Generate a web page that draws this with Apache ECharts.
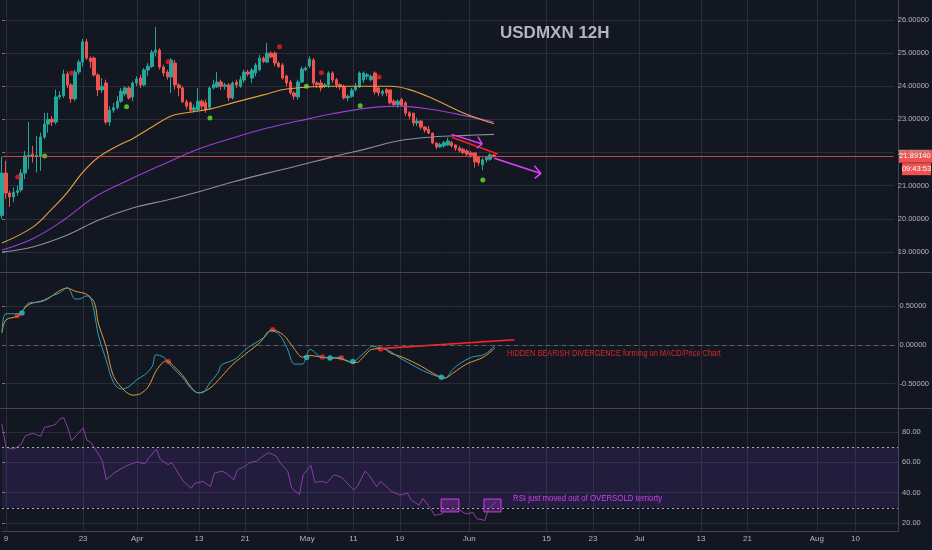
<!DOCTYPE html>
<html><head><meta charset="utf-8">
<script src="https://cdn.jsdelivr.net/npm/echarts@6.0.0/dist/echarts.min.js"></script>
<style>html,body{margin:0;padding:0;background:#131722}#c{width:932px;height:550px}</style>
</head><body><div id="c"></div><script>
// ---------- data ----------
const barCount = 233;
const xTickIdx = [1,21,35,51,63,79,91,103,121,141,153,165,181,193,211,221];
const xTickText = ['9','23','Apr','13','21','May','11','19','Jun','15','23','Jul','13','21','Aug','10'];

const opens = [20.1,21.38,20.78,20.66,20.8,20.87,21.38,21.9,21.95,21.88,21.9,22.47,22.86,23.01,22.92,23.68,23.72,24.37,24.04,23.62,24.43,24.73,25.34,24.85,24.85,24.34,23.89,24.1,22.92,23.28,23.35,23.55,23.77,23.95,23.68,24.1,24.25,24.04,24.49,24.6,25.03,25.09,24.58,24.43,24.28,24.7,24.04,23.95,23.53,23.5,23.28,23.3,23.55,23.5,23.37,23.95,23.98,24.13,24.0,24.04,23.65,24.13,24.0,24.19,24.43,24.25,24.4,24.5,24.85,24.73,25.0,25.0,24.7,24.64,24.31,24.13,23.8,23.68,24.13,24.5,24.61,24.79,24.1,24.1,24.0,24.04,24.4,24.2,24.05,23.98,23.65,23.7,23.9,23.98,24.19,24.3,24.2,24.4,23.95,23.78,23.9,23.89,23.55,23.45,23.6,23.5,23.2,23.19,22.89,22.95,22.77,22.7,22.59,22.29,22.17,22.2,22.23,22.3,22.23,22.14,22.1,22.05,21.99,21.99,21.85,21.63,21.78,21.8,21.93];
const closes = [21.38,20.78,20.66,20.8,20.85,21.38,21.9,21.92,21.88,21.92,22.47,22.86,23.0,22.92,23.68,23.72,24.37,24.04,23.62,24.43,24.73,25.34,24.85,24.75,24.34,23.89,24.0,22.92,23.28,23.35,23.55,23.85,23.95,23.65,24.1,24.22,24.04,24.49,24.6,25.03,25.09,24.58,24.4,24.28,24.79,24.04,23.95,23.53,23.4,23.28,23.35,23.55,23.4,23.3,23.95,24.05,24.13,24.0,24.04,23.65,24.1,24.04,24.2,24.43,24.37,24.49,24.64,24.85,24.75,25.0,24.88,24.7,24.6,24.25,24.1,23.8,23.7,24.13,24.52,24.55,24.82,24.1,24.05,23.95,24.04,24.4,24.19,24.04,23.98,23.65,23.7,23.88,24.0,24.4,24.4,24.35,24.3,23.83,23.8,23.85,23.8,23.5,23.45,23.55,23.43,23.19,23.1,22.89,22.95,22.77,22.68,22.59,22.29,22.17,22.25,22.3,22.35,22.2,22.13,22.06,22.0,21.95,21.92,21.72,21.69,21.78,21.85,21.93,21.89];
const highs = [21.87,21.75,20.85,20.95,21.0,21.5,22.05,22.92,22.2,22.5,22.6,23.2,23.2,23.1,23.9,23.85,24.5,24.45,24.1,24.5,24.8,25.43,25.43,24.9,24.9,24.4,24.25,24.2,23.4,23.5,23.7,23.95,24.0,24.0,24.15,24.3,24.35,24.55,24.7,25.1,25.79,25.15,24.65,24.5,24.85,24.8,24.1,24.0,23.6,23.55,23.45,23.95,23.6,23.6,24.0,24.2,24.43,24.2,24.1,24.1,24.15,24.2,24.3,24.5,24.5,24.55,24.7,24.95,24.9,25.31,25.05,25.05,24.75,24.7,24.35,24.2,23.85,24.2,24.6,24.6,24.9,24.85,24.15,24.2,24.1,24.45,24.45,24.25,24.1,24.05,23.75,23.95,24.1,24.45,24.45,24.4,24.35,24.45,24.0,23.9,23.95,23.9,23.6,23.6,23.65,23.55,23.25,23.2,23.05,22.98,22.8,22.8,22.6,22.3,22.3,22.35,22.45,22.35,22.25,22.2,22.15,22.1,22.05,22.0,21.9,21.85,21.9,21.98,21.95];
const lows = [20.0,20.6,20.36,20.5,20.7,20.8,21.2,21.5,21.7,21.4,21.45,22.4,22.6,22.8,22.85,23.6,23.65,23.95,23.5,23.55,24.35,24.6,24.8,24.55,24.3,23.7,23.8,22.85,22.8,23.2,23.3,23.5,23.7,23.6,23.55,24.0,23.95,24.0,24.3,24.55,24.9,24.5,24.3,24.2,23.8,23.9,23.7,23.5,23.3,23.2,23.2,23.25,23.3,23.2,23.3,23.9,23.95,23.9,23.9,23.55,23.6,23.95,23.95,24.1,24.3,24.1,24.3,24.45,24.7,24.7,24.85,24.6,24.55,24.2,24.0,23.75,23.6,23.6,24.1,24.45,24.55,24.0,23.95,23.85,23.95,23.95,24.1,23.95,23.9,23.6,23.55,23.65,23.85,23.95,24.1,24.2,24.15,23.75,23.7,23.7,23.7,23.45,23.4,23.35,23.4,23.1,23.0,22.8,22.8,22.7,22.6,22.55,22.25,22.1,22.15,22.15,22.2,22.15,22.05,22.0,21.95,21.9,21.85,21.55,21.6,21.47,21.7,21.75,21.85];
const lastPrice = 21.8914;
const countdownText = '09:43:53';

const maOrange = [[0,19.27],[8,19.75],[13,20.3],[17,20.8],[21,21.4],[25,21.85],[30,22.2],[34,22.42],[39,22.77],[44,23.1],[48,23.2],[54,23.31],[60,23.5],[68,23.74],[74,23.92],[85,24.0],[95,24.0],[101,24.0],[106,23.9],[112,23.63],[119,23.25],[124,23.02],[128,22.87]];
const maPurple = [[0,19.06],[8,19.4],[16,19.96],[24,20.65],[32,21.12],[43,21.7],[51,22.1],[60,22.44],[69,22.74],[77,22.95],[86,23.17],[95,23.34],[103,23.4],[112,23.3],[121,23.1],[128,22.92]];
const maGray = [[0,19.0],[8,19.15],[17,19.51],[25,19.96],[34,20.33],[43,20.57],[51,20.81],[60,21.11],[69,21.38],[77,21.6],[86,21.87],[95,22.12],[103,22.35],[112,22.47],[121,22.52],[128,22.55]];

const sellDots = [[4.1,21.26],[18.1,24.4],[43.2,24.74],[72.2,25.19],[83.1,24.41],[98.1,24.28]];
const buyDots = [[11.1,21.9],[32.4,23.38],[54.1,23.04],[79.2,24.0],[93.2,23.41],[125.1,21.17]];

const trendRed = [[117.0,22.46],[129.0,21.96]];
const arrow1 = [[117.0,22.55],[124.9,22.26]];
const arrow1Head = [[123.8,22.48],[124.9,22.26],[123.5,22.13]];
const arrow2 = [[128.1,21.83],[140.2,21.37]];
const arrow2Head = [[138.5,21.6],[140.2,21.37],[138.6,21.22]];

const macdLine = [[0,0.17],[1,0.40],[4,0.40],[5,0.42],[7,0.54],[9,0.55],[11,0.58],[13,0.63],[15,0.67],[17,0.74],[19,0.59],[20,0.59],[22,0.63],[23,0.60],[24,0.41],[25,0.13],[27,-0.19],[29,-0.49],[31,-0.57],[33,-0.54],[35,-0.45],[37,-0.39],[39,-0.28],[40,-0.13],[42,-0.16],[43,-0.22],[44,-0.28],[47,-0.43],[49,-0.56],[51,-0.62],[52,-0.62],[54,-0.49],[56,-0.37],[57,-0.26],[59,-0.22],[61,-0.17],[63,-0.07],[65,0],[68,0.09],[70,0.18],[72,0.13],[74,-0.04],[76,-0.25],[78,-0.25],[79,-0.16],[80,-0.06],[82,-0.13],[83,-0.16],[85,-0.17],[88,-0.16],[89,-0.19],[91,-0.22],[93,-0.15],[95,-0.06],[96,-0.02],[99,-0.05],[101,-0.09],[103,-0.16],[108,-0.30],[111,-0.37],[115,-0.43],[117,-0.32],[119,-0.24],[122,-0.16],[125,-0.13],[127,-0.06],[128,-0.01]];
const signalLine = [[0,0.15],[1,0.32],[4,0.37],[7,0.52],[11,0.57],[17,0.73],[19,0.69],[22,0.65],[24,0.54],[25,0.28],[27,-0.02],[29,-0.41],[32,-0.60],[34,-0.65],[36,-0.63],[38,-0.54],[40,-0.34],[42,-0.22],[43,-0.21],[44,-0.25],[47,-0.40],[49,-0.54],[51,-0.62],[54,-0.56],[57,-0.41],[60,-0.25],[64,-0.09],[67,0.03],[70,0.19],[73,0.13],[76,-0.06],[78,-0.16],[80,-0.14],[83,-0.16],[85,-0.17],[88,-0.18],[90,-0.22],[92,-0.23],[94,-0.15],[96,-0.06],[99,-0.05],[101,-0.11],[104,-0.16],[109,-0.28],[112,-0.37],[115,-0.43],[117,-0.37],[119,-0.30],[121,-0.24],[125,-0.16],[128,-0.04]];
const macdRedDots = [[4.0,0.378],[9.2,0.538],[13.1,0.632],[17.2,0.731],[43.2,-0.215],[70.3,0.194],[83.2,-0.159],[88.1,-0.168],[98.3,-0.056]];
const macdCyanDots = [[5.2,0.409],[11.3,0.581],[14.3,0.658],[31.2,-0.571],[52.1,-0.611],[79.1,-0.164],[85.2,-0.172],[91.1,-0.215],[114.1,-0.42]];
const divergenceLine = [[98.1,-0.05],[133.1,0.065]];

const rsiLine = [[0,85],[1,70],[3,68.6],[5,72],[6,77.5],[8,79.1],[10,77.1],[11,83.1],[13,84.2],[14,85.4],[15,88.7],[16,89.4],[17,83.1],[18,74.2],[20,79.8],[21,82.7],[22,74.6],[23,73.1],[25,65.3],[26,60.8],[27,48.5],[29,53],[30,54.5],[32,57.4],[33,58.5],[35,60.3],[37,59],[38,63],[40,68.6],[41,61.9],[43,58.5],[44,59.7],[46,51.4],[47,47.4],[49,42.9],[50,46.3],[52,47.4],[54,44],[55,53],[57,54.1],[58,53],[60,48.5],[61,55.2],[63,57.4],[64,59.7],[66,60.8],[67,63],[69,66.4],[71,64.1],[72,59.7],[74,54.1],[75,42.9],[77,38.9],[78,51.8],[80,58.1],[81,46.9],[83,47.4],[84,46.3],[86,51.8],[88,50.1],[89,47.4],[91,41.8],[92,44],[94,54.1],[95,51.8],[97,44],[98,47.4],[100,42.9],[101,40.7],[103,38.4],[105,39.6],[106,35.1],[108,31.7],[109,36.2],[111,29.5],[112,25],[114,26.1],[115,29.5],[117,27.7],[118,29.5],[120,26.1],[122,26.8],[123,22.8],[125,21.7],[126,29.5],[128,34]];
const rsiBands = [30, 70];
const rsiBoxes = [[[113.7,35.8],[118.3,27.3]],[[124.8,35.8],[129.2,27.3]]];

const titleText = 'USDMXN 12H';
const macdNote = 'HIDDEN BEARISH DIVERGENCE forming on MACD/Price Chart';
const rsiNote = 'RSI just moved out of OVERSOLD terriorty';

// ---------- chart ----------
const GRID = '#2a2e39';
const AXT = '#b2b5be';
const FONT = "'Liberation Sans Narrow','Liberation Sans',sans-serif";
const cats = Array.from({length: barCount}, (_, i) => String(i));
const tickMap = {};
xTickIdx.forEach((v, k) => { tickMap[v] = xTickText[k]; });
const isTick = (i) => tickMap[i] !== undefined;
const candles = opens.map((o, i) => [o, closes[i], lows[i], highs[i]]);

const chart = echarts.init(document.getElementById('c'), null, {renderer: 'canvas'});
const yLab = (fmt) => ({color: AXT, fontSize: 7.5, fontFamily: FONT, margin: 4, formatter: fmt});
const yTick = {show: true, length: 3, lineStyle: {color: '#787b86'}};

const line = (x, y, data, color, width, extra) => Object.assign({
  type: 'line', xAxisIndex: x, yAxisIndex: y, data: data, symbol: 'none',
  lineStyle: {color: color, width: width}, silent: true, animation: false, clip: false
}, extra || {});

const option = {
  backgroundColor: '#131722',
  animation: false,
  grid: [
    {left: 2, right: 34, top: 0, bottom: 19},
    {left: 2, right: 34, top: 20, height: 232},
    {left: 2, right: 34, top: 306, height: 77.5},
    {left: 2, right: 34, top: 432, height: 91}
  ],
  xAxis: [
    {type: 'category', gridIndex: 0, data: cats, boundaryGap: false,
     axisLine: {show: true, lineStyle: {color: '#434651'}}, axisTick: {show: false},
     axisLabel: {interval: (i) => isTick(i), formatter: (v, i) => tickMap[i] || '', color: AXT, fontSize: 8, fontFamily: FONT, margin: 4},
     splitLine: {show: true, interval: (i) => isTick(i), lineStyle: {color: GRID}}},
    {type: 'category', gridIndex: 1, data: cats, boundaryGap: false, show: false},
    {type: 'value', gridIndex: 1, min: 0, max: barCount - 1, show: false},
    {type: 'value', gridIndex: 2, min: 0, max: barCount - 1, show: false},
    {type: 'value', gridIndex: 3, min: 0, max: barCount - 1, show: false}
  ],
  yAxis: [
    {type: 'value', gridIndex: 0, position: 'right', min: 0, max: 1,
     axisLine: {show: true, lineStyle: {color: '#434651'}}, axisLabel: {show: false}, axisTick: {show: false}, splitLine: {show: false}},
    {type: 'value', gridIndex: 1, position: 'right', min: 19, max: 26, interval: 1,
     axisLine: {show: false}, axisTick: yTick, axisLabel: yLab((v) => v.toFixed(5)), splitLine: {lineStyle: {color: GRID}}},
    {type: 'value', gridIndex: 2, position: 'right', min: -0.5, max: 0.5, interval: 0.5,
     axisLine: {show: false}, axisTick: yTick, axisLabel: yLab((v) => v.toFixed(5)), splitLine: {lineStyle: {color: GRID}}},
    {type: 'value', gridIndex: 3, position: 'right', min: 20, max: 80, interval: 20,
     axisLine: {show: false}, axisTick: yTick, axisLabel: yLab((v) => v.toFixed(2)), splitLine: {lineStyle: {color: GRID}}}
  ],
  series: [
    line(2, 1, maGray, '#8d9099', 1.1, {smooth: 0.4}),
    line(2, 1, maPurple, '#9b3fd1', 1.1, {smooth: 0.4}),
    line(2, 1, maOrange, '#e0a33a', 1.1, {smooth: 0.4}),
    {type: 'candlestick', xAxisIndex: 1, yAxisIndex: 1, data: candles, barWidth: 3, silent: true,
     itemStyle: {color: '#26a69a', color0: '#ef5350', borderColor: '#26a69a', borderColor0: '#ef5350', borderWidth: 1},
     markLine: {silent: true, symbol: ['none', 'none'], label: {show: false},
       lineStyle: {color: '#ef5350', width: 1, type: 'solid', opacity: 0.8}, data: [{yAxis: lastPrice}]}},
    {type: 'scatter', xAxisIndex: 2, yAxisIndex: 1, data: sellDots, symbolSize: 5, itemStyle: {color: '#f01c24'}, silent: true},
    {type: 'scatter', xAxisIndex: 2, yAxisIndex: 1, data: buyDots, symbolSize: 5, itemStyle: {color: '#5ee62c'}, silent: true},
    line(2, 1, trendRed, '#ff1f1f', 1.6),
    line(2, 1, arrow1, '#e040fb', 1.5),
    line(2, 1, arrow1Head, '#e040fb', 1.5),
    line(2, 1, arrow2, '#e040fb', 1.5),
    line(2, 1, arrow2Head, '#e040fb', 1.5),
    // MACD
    line(3, 2, signalLine, '#e49b35', 1, {smooth: 0.35,
      markLine: {silent: true, symbol: ['none', 'none'], label: {show: false},
        lineStyle: {color: '#5d606b', type: [4, 4], width: 1}, data: [{yAxis: 0}]}}),
    line(3, 2, macdLine, '#2aa3b8', 1, {smooth: 0.35}),
    line(3, 2, divergenceLine, '#ff2222', 1.6),
    {type: 'scatter', xAxisIndex: 3, yAxisIndex: 2, data: macdRedDots, symbolSize: 5.5, itemStyle: {color: '#ff1a1a'}, silent: true},
    {type: 'scatter', xAxisIndex: 3, yAxisIndex: 2, data: macdCyanDots, symbolSize: 5.5, itemStyle: {color: '#26c6da'}, silent: true},
    // RSI
    line(4, 3, rsiLine, '#8a3fa6', 1, {
      markArea: {silent: true, data: [
        [{yAxis: rsiBands[1], itemStyle: {color: 'rgba(120,60,200,0.16)'}}, {yAxis: rsiBands[0]}],
        [{coord: rsiBoxes[0][0], itemStyle: {color: 'rgba(224,64,251,0.22)', borderColor: '#d63cf0', borderWidth: 1}}, {coord: rsiBoxes[0][1]}],
        [{coord: rsiBoxes[1][0], itemStyle: {color: 'rgba(224,64,251,0.22)', borderColor: '#d63cf0', borderWidth: 1}}, {coord: rsiBoxes[1][1]}]
      ]},
      markLine: {silent: true, symbol: ['none', 'none'], label: {show: false},
        lineStyle: {color: '#a9acb5', type: [2, 3], width: 1}, data: [{yAxis: rsiBands[1]}, {yAxis: rsiBands[0]}]}})
  ]
};
chart.setOption(option);

const py = chart.convertToPixel({yAxisIndex: 1}, lastPrice);
chart.setOption({
  graphic: [
    {type: 'line', shape: {x1: 0, y1: 272.5, x2: 932, y2: 272.5}, style: {stroke: '#434651', lineWidth: 1}, silent: true},
    {type: 'line', shape: {x1: 0, y1: 408.5, x2: 932, y2: 408.5}, style: {stroke: '#434651', lineWidth: 1}, silent: true},
    {type: 'text', x: 500, y: 25, style: {text: titleText, fill: '#b2b5be', font: "bold 17px 'Liberation Sans', sans-serif"}, silent: true},
    {type: 'text', x: 507, y: 349, scaleX: 0.87, style: {text: macdNote, fill: '#d9262b', font: "8.5px 'Liberation Sans', sans-serif"}, silent: true},
    {type: 'text', x: 513, y: 494, scaleX: 0.92, style: {text: rsiNote, fill: '#e040fb', font: "8.5px 'Liberation Sans', sans-serif"}, silent: true},
    {type: 'rect', shape: {x: 898, y: py - 6.5, width: 34, height: 13}, style: {fill: '#ef5350'}, silent: true},
    {type: 'text', x: 915, y: py, style: {text: lastPrice.toFixed(5), fill: '#ffffff', font: "7.5px " + FONT, textAlign: 'center', textVerticalAlign: 'middle'}, silent: true},
    {type: 'rect', shape: {x: 902, y: py + 7, width: 29, height: 12}, style: {fill: '#ef5350'}, silent: true},
    {type: 'text', x: 916.5, y: py + 13, style: {text: countdownText, fill: '#ffffff', font: "7.5px " + FONT, textAlign: 'center', textVerticalAlign: 'middle'}, silent: true}
  ]
});
</script></body></html>
